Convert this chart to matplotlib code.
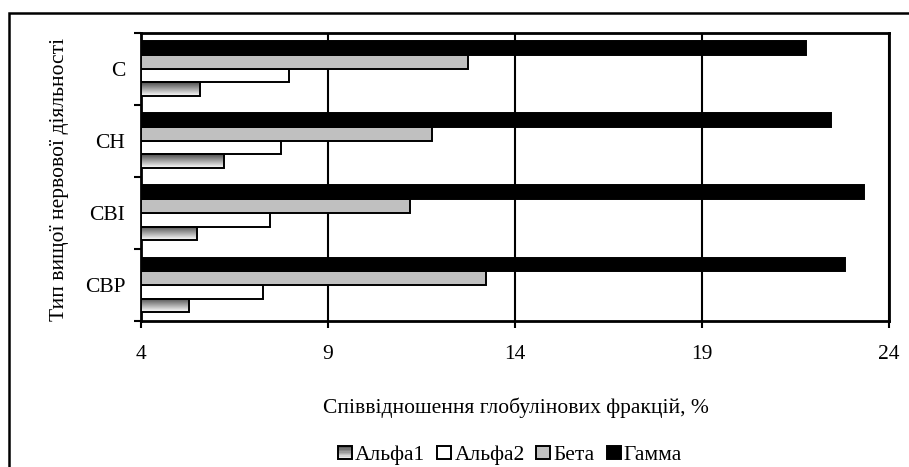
import numpy as np
import matplotlib
matplotlib.use("Agg")
import matplotlib.pyplot as plt
from matplotlib.patches import Rectangle, Patch
from matplotlib.legend_handler import HandlerPatch

plt.rcParams['font.family'] = ['Liberation Serif', 'DejaVu Serif']

categories = ["СВР", "СВІ", "СН", "С"]
alpha1 = [5.3, 5.5, 6.24, 5.59]
alpha2 = [7.28, 7.46, 7.75, 7.97]
beta = [13.22, 11.21, 11.78, 12.74]
gamma = [22.82, 23.33, 22.44, 21.79]
series_names = ["Альфа1", "Альфа2", "Бета", "Гамма"]
xticks = [4, 9, 14, 19, 24]
base = 4

W, H = 909, 467
FS = 15.5
fig = plt.figure(figsize=(W / 100, H / 100), dpi=100)
L, R, T, B = 140.5, 889, 32.5, 321
ax = fig.add_axes([L / W, 1 - B / H, (R - L) / W, (B - T) / H])

# outer chart-area border
fig.patches.append(Rectangle((9 / W, -0.1), 1.2, 1 - 12.5 / H + 0.1,
                             transform=fig.transFigure, fill=False,
                             edgecolor='black', linewidth=1.8, zorder=0))

y = np.arange(len(categories))
h = 0.19
offsets = [-1.5 * h, -0.5 * h, 0.5 * h, 1.5 * h]
vals = [alpha1, alpha2, beta, gamma]
fills = [None, 'white', '#c0c0c0', 'black']

grad = np.linspace(0.3, 1.0, 64).reshape(-1, 1)

for s, (v, fc, off) in enumerate(zip(vals, fills, offsets)):
    widths = np.array(v) - base
    if fc is None:
        bars = ax.barh(y + off, widths, height=h, left=base, color='none',
                       edgecolor='black', linewidth=1.4, zorder=4)
        for b in bars:
            x0, y0 = b.get_x(), b.get_y()
            im = ax.imshow(grad[::-1], cmap='gray', vmin=0, vmax=1,
                           extent=[x0, x0 + b.get_width(), y0, y0 + b.get_height()],
                           aspect='auto', origin='lower', zorder=3,
                           interpolation='bilinear')
            im.set_clip_path(b)
    else:
        ax.barh(y + off, widths, height=h, left=base, color=fc,
                edgecolor='black', linewidth=1.4, zorder=3)

ax.set_xlim(4, 24)
ax.set_ylim(-0.5, len(categories) - 0.5)
ax.set_xticks(xticks)
ax.set_xticklabels([str(t) for t in xticks], fontsize=FS)
ax.set_yticks(np.arange(-0.5, len(categories), 1.0))
ax.set_yticklabels([])
ax.set_yticks(y, minor=True)
ax.set_yticklabels(categories, minor=True, fontsize=FS)
ax.tick_params(axis='y', which='minor', length=0, pad=11)
ax.tick_params(axis='y', which='major', length=5, width=1.5, direction='out')
ax.tick_params(axis='x', length=5, width=1.5, direction='out', pad=12.5)
ax.grid(axis='x', color='black', linewidth=1.5, zorder=1)
ax.set_axisbelow(True)
for sp in ax.spines.values():
    sp.set_linewidth(2)
    sp.set_color('black')

fig.text(516 / W, 1 - 408 / H, "Співвідношення глобулінових фракцій, %",
         fontsize=FS, ha='center', va='center')
fig.text(60 / W, 1 - 179 / H, "Тип вищої нервової діяльності",
         fontsize=FS, ha='center', va='center', rotation=90)

# legend
class GradHandler(HandlerPatch):
    def create_artists(self, legend, orig_handle, xdescent, ydescent, width,
                       height, fontsize, trans):
        sz = min(width, height)
        x0 = -xdescent + (width - sz) / 2
        y0 = -ydescent
        arts = []
        n = 10
        for i in range(n):
            g = 0.3 + 0.7 * i / (n - 1)
            arts.append(Rectangle((x0, y0 + sz - (i + 1) * sz / n), sz, sz / n,
                                  facecolor=str(g), edgecolor='none', transform=trans))
        rect = Rectangle((x0, y0), sz, sz, facecolor='none', edgecolor='black',
                         linewidth=1.4, transform=trans)
        return arts + [rect]

class SqHandler(HandlerPatch):
    def create_artists(self, legend, orig_handle, xdescent, ydescent, width,
                       height, fontsize, trans):
        sz = min(width, height)
        x0 = -xdescent + (width - sz) / 2
        rect = Rectangle((x0, -ydescent), sz, sz,
                         facecolor=orig_handle.get_facecolor(),
                         edgecolor='black', linewidth=1.4, transform=trans)
        return [rect]

handles = [Patch(facecolor='gray', edgecolor='black'),
           Patch(facecolor='white', edgecolor='black'),
           Patch(facecolor='#c0c0c0', edgecolor='black'),
           Patch(facecolor='black', edgecolor='black')]
hmap = {handles[0]: GradHandler()}
for hd in handles[1:]:
    hmap[hd] = SqHandler()
fig.legend(handles, series_names, loc='center', bbox_to_anchor=(510 / W, 1 - 455 / H),
           ncol=4, frameon=False, fontsize=FS, handlelength=0.65, handleheight=0.65,
           handletextpad=0.15, columnspacing=0.55, handler_map=hmap,
           borderpad=0.1, borderaxespad=0)

fig.savefig("out.png", dpi=100)
